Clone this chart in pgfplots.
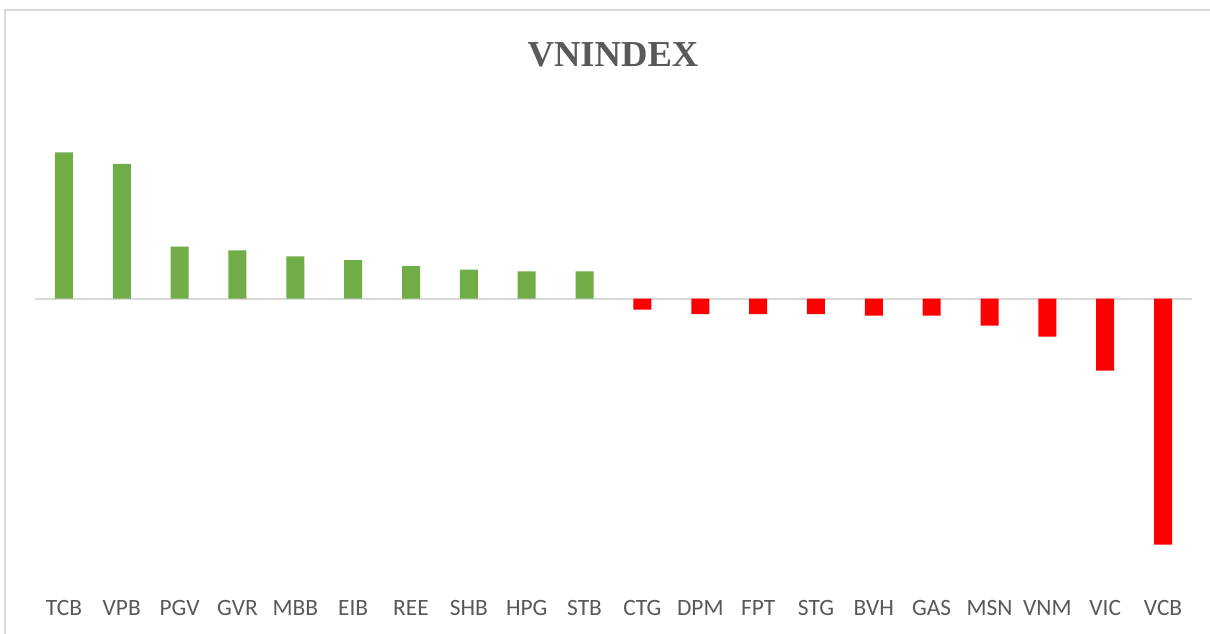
\documentclass[border=0pt]{standalone}
\usepackage{pgfplots}
\pgfplotsset{compat=1.18}
\usepackage{fontspec}
\setmainfont{Carlito}
\newfontfamily\titlefont{Liberation Serif}
\definecolor{posgreen}{HTML}{70AD47}
\definecolor{negred}{HTML}{FF0000}
\definecolor{txtgray}{HTML}{595959}
\definecolor{linegray}{HTML}{D9D9D9}
\begin{document}
\begin{tikzpicture}[x=0.5pt,y=0.5pt]
\useasboundingbox (0,0) rectangle (1210,633);
\draw[linegray, line width=0.9pt] (5,-20) -- (5,623) -- (1230,623);
\node[anchor=base, text=txtgray, font=\titlefont\bfseries\fontsize{18.3}{22}\selectfont] at (613,633-66.5) {VNINDEX};
\begin{axis}[
  at={(17.5pt,36.5pt)}, anchor=south west,
  scale only axis, width=578.5pt, height=230pt,
  xmin=-0.5, xmax=19.5, ymin=-261.5, ymax=198.5,
  axis line style={draw=none},
  tick style={draw=none},
  ytick=\empty,
  xtick={0,...,19},
  xticklabels={TCB,VPB,PGV,GVR,MBB,EIB,REE,SHB,HPG,STB,CTG,DPM,FPT,STG,BVH,GAS,MSN,VNM,VIC,VCB},
  xticklabel style={anchor=base, yshift=-23.6pt, text=txtgray, font=\fontsize{11.7}{14}\selectfont},
  extra y ticks={0}, extra y tick labels={},
  extra y tick style={grid=major, major grid style={draw=linegray, line width=1pt}},
  ybar, bar width=9pt, bar shift=0pt,
]
\addplot[fill=posgreen, draw=none] coordinates {
 (0,146.2) (1,134.5) (2,51.8) (3,48.2) (4,42.2) (5,38.5) (6,32.5) (7,28.8) (8,27.2) (9,27.2)};
\addplot[fill=negred, draw=none] coordinates {
 (10,-11.2) (11,-15.5) (12,-15.5) (13,-15.5) (14,-17.2) (15,-17.2) (16,-27.2) (17,-38.2) (18,-72.2) (19,-246.2)};
\end{axis}
\end{tikzpicture}
\end{document}
